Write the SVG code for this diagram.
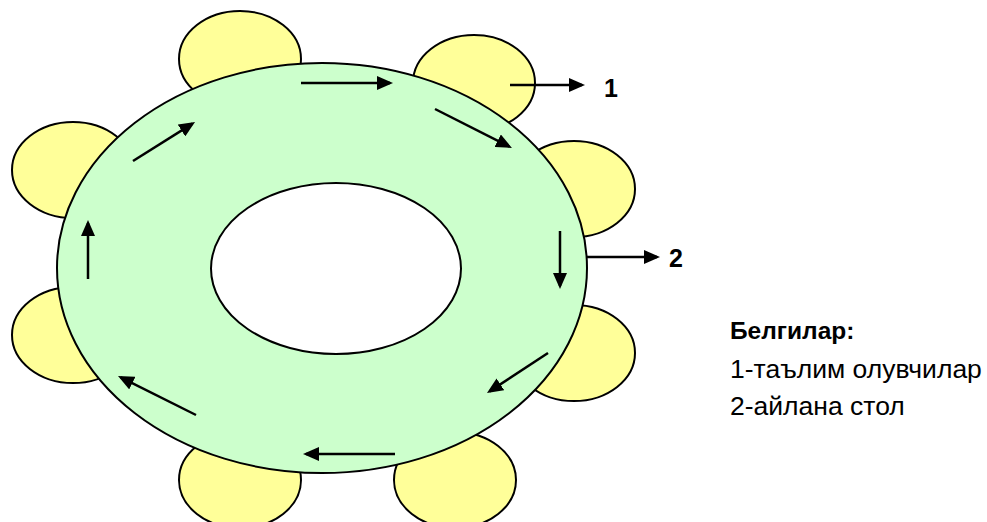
<svg xmlns="http://www.w3.org/2000/svg" width="987" height="522" viewBox="0 0 987 522">
<style>
.seat{fill:#FFFF99;stroke:#000;stroke-width:2}
.table{fill:#CCFFCC;stroke:#000;stroke-width:2}
.hole{fill:#FFFFFF;stroke:#000;stroke-width:2}
.arr{stroke:#000;stroke-width:2.5;fill:none;marker-end:url(#ah)}
.num{font-family:"Liberation Sans",Arial,sans-serif;font-weight:bold;font-size:25px;fill:#000}
.leg{font-family:"Liberation Sans",Arial,sans-serif;font-size:26.5px;fill:#000}
.legh{font-family:"Liberation Sans",Arial,sans-serif;font-size:24.5px;font-weight:bold;fill:#000}
</style>
<defs>
<marker id="ah" markerUnits="userSpaceOnUse" markerWidth="16" markerHeight="14" refX="13" refY="7" orient="auto">
<path d="M0,0 L16,7 L0,14 z" fill="#000"/>
</marker>
</defs>
<rect width="987" height="522" fill="#fff"/>
<g id="seats">
<g id="seat-1"><ellipse class="seat" cx="240" cy="59" rx="61" ry="48"/></g>
<g id="seat-2"><ellipse class="seat" cx="474" cy="83" rx="61" ry="48"/></g>
<g id="seat-3"><ellipse class="seat" cx="574" cy="189" rx="61" ry="48"/></g>
<g id="seat-4"><ellipse class="seat" cx="574" cy="353" rx="61" ry="48"/></g>
<g id="seat-5"><ellipse class="seat" cx="455" cy="480" rx="61" ry="48"/></g>
<g id="seat-6"><ellipse class="seat" cx="240" cy="480" rx="61" ry="48"/></g>
<g id="seat-7"><ellipse class="seat" cx="73" cy="335" rx="61" ry="48"/></g>
<g id="seat-8"><ellipse class="seat" cx="73" cy="170" rx="61" ry="48"/></g>
</g>
<g id="round-table">
<ellipse class="table" cx="322" cy="268" rx="265" ry="205"/>
<ellipse class="hole" cx="336" cy="268.5" rx="125" ry="85.5"/>
</g>
<g id="connectors">
<line class="arr" x1="301" y1="83" x2="390" y2="83"/>
<line class="arr" x1="435" y1="109" x2="509.3" y2="146.6"/>
<line class="arr" x1="560" y1="231" x2="560" y2="286"/>
<line class="arr" x1="548" y1="353" x2="489.5" y2="391.4"/>
<line class="arr" x1="395" y1="454" x2="306" y2="454"/>
<line class="arr" x1="196" y1="415" x2="120.7" y2="377.3"/>
<line class="arr" x1="88" y1="279" x2="88" y2="223"/>
<line class="arr" x1="133" y1="161" x2="192.5" y2="123.6"/>
<line class="arr" x1="510" y1="85" x2="582" y2="85"/>
<line class="arr" x1="586" y1="257" x2="657" y2="257"/>
</g>
<g id="labels">
<text class="num" x="604" y="97">1</text>
<text class="num" x="669" y="267">2</text>
</g>
<g id="legend">
<text class="legh" x="730" y="339">Белгилар:</text>
<text class="leg" x="730" y="378">1-таълим олувчилар</text>
<text class="leg" x="730" y="415">2-айлана стол</text>
</g>
</svg>
